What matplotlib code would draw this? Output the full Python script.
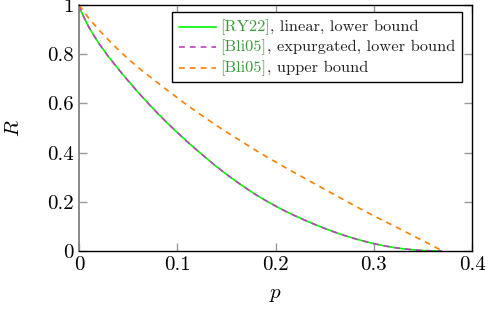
import matplotlib
matplotlib.use("Agg")
import matplotlib.pyplot as plt
from matplotlib.lines import Line2D
from matplotlib.offsetbox import AnchoredOffsetbox, HPacker, VPacker, TextArea, DrawingArea

plt.rcParams['mathtext.fontset'] = 'cm'
plt.rcParams['font.family'] = ['cmr10', 'DejaVu Serif']
plt.rcParams['axes.formatter.use_mathtext'] = True

# lower bounds (linear RY22 and expurgated Bli05 coincide)
p_lower = [0.0, 0.0025, 0.005, 0.01, 0.02, 0.03, 0.04, 0.05, 0.06, 0.07, 0.08,
           0.09, 0.10, 0.11, 0.12, 0.13, 0.14, 0.15, 0.16, 0.17, 0.18, 0.19,
           0.20, 0.21, 0.22, 0.23, 0.24, 0.25, 0.26, 0.27, 0.28, 0.29, 0.30,
           0.31, 0.32, 0.33, 0.34, 0.35, 0.36, 0.369]
R_lower = [1.0, 0.972, 0.95, 0.91, 0.845, 0.79, 0.74, 0.692, 0.646, 0.602, 0.560,
           0.520, 0.482, 0.445, 0.410, 0.376, 0.343, 0.312, 0.283, 0.255, 0.229, 0.205,
           0.183, 0.162, 0.143, 0.125, 0.108, 0.092, 0.077, 0.0635, 0.051, 0.040, 0.030,
           0.0215, 0.0145, 0.009, 0.005, 0.002, 0.0005, 0.0]
# upper bound (Bli05)
p_upper = [0.0, 0.005, 0.01, 0.02, 0.03, 0.04, 0.05, 0.06, 0.07, 0.08, 0.09,
           0.10, 0.11, 0.12, 0.13, 0.14, 0.15, 0.16, 0.17, 0.18, 0.19, 0.20,
           0.21, 0.22, 0.23, 0.24, 0.25, 0.26, 0.27, 0.28, 0.29, 0.30, 0.31,
           0.32, 0.33, 0.34, 0.35, 0.36, 0.37]
R_upper = [1.0, 0.972, 0.946, 0.900, 0.858, 0.818, 0.781, 0.747, 0.715, 0.684, 0.653,
           0.623, 0.593, 0.565, 0.537, 0.510, 0.484, 0.459, 0.434, 0.409, 0.385, 0.362,
           0.339, 0.317, 0.295, 0.273, 0.251, 0.229, 0.207, 0.185, 0.164, 0.143, 0.123,
           0.103, 0.083, 0.062, 0.042, 0.021, 0.0]

xticks = [0, 0.1, 0.2, 0.3, 0.4]
xticklabels = ['0', '0.1', '0.2', '0.3', '0.4']
yticks = [0, 0.2, 0.4, 0.6, 0.8, 1]
yticklabels = ['0', '0.2', '0.4', '0.6', '0.8', '1']

leg_cites = ['[RY22]', '[Bli05]', '[Bli05]']
leg_rest = [', linear, lower bound', ', expurgated, lower bound', ', upper bound']

green = '#00ff00'
magenta = '#bf40bf'
orange = '#ff8000'
citegreen = '#3a9a3a'
dash = (0, (3.5, 3))
LW = 1.2

fig = plt.figure(figsize=(4.89, 3.14), dpi=100)
ax = fig.add_axes([79/489, 63/314, (472-79)/489, (251-5)/314])

ax.plot(p_lower, R_lower, color=green, lw=LW, solid_capstyle='butt')
ax.plot(p_lower, R_lower, color=magenta, lw=LW, ls=dash)
ax.plot(p_upper, R_upper, color=orange, lw=LW, ls=dash)

ax.set_xlim(0, 0.4)
ax.set_ylim(0, 1)
ax.set_xticks(xticks)
ax.set_xticklabels(xticklabels, fontsize=15)
ax.set_yticks(yticks)
ax.set_yticklabels(yticklabels, fontsize=15)
ax.tick_params(direction='in', length=6, width=1, color='#999999',
               top=True, right=True, pad=4)
ax.set_xlabel('$p$', fontsize=15, labelpad=8)
ax.set_ylabel('$R$', fontsize=15, labelpad=17)
ax.spines['left'].set_color('#808080')
ax.spines['left'].set_linewidth(1.3)
for s in ['bottom', 'top', 'right']:
    ax.spines[s].set_color('black')
    ax.spines[s].set_linewidth(1.0)

# legend with two-coloured labels
styles = [dict(color=green, ls='-'), dict(color=magenta, ls=dash),
          dict(color=orange, ls=dash)]
rows = []
for st, cite, rest in zip(styles, leg_cites, leg_rest):
    da = DrawingArea(27, 8, 0, 0)
    da.add_artist(Line2D([0, 27], [4, 4], lw=LW, **st))
    t1 = TextArea(cite, textprops=dict(color=citegreen, fontsize=11.8))
    t2 = TextArea(rest, textprops=dict(color='#222222', fontsize=11.8))
    txt = HPacker(children=[t1, t2], pad=0, sep=0, align='baseline')
    rows.append(HPacker(children=[da, txt], pad=0, sep=3, align='center'))
box = VPacker(children=rows, pad=0, sep=3.5, align='left')
anch = AnchoredOffsetbox(loc='upper left', child=box, frameon=True,
                         bbox_to_anchor=(172/489, 1 - 12/314),
                         bbox_transform=fig.transFigure, borderpad=0, pad=0.5)
anch.patch.set_edgecolor('black')
anch.patch.set_linewidth(1.0)
anch.patch.set_boxstyle('square', pad=0)
ax.add_artist(anch)

fig.savefig('out.png', dpi=100)
